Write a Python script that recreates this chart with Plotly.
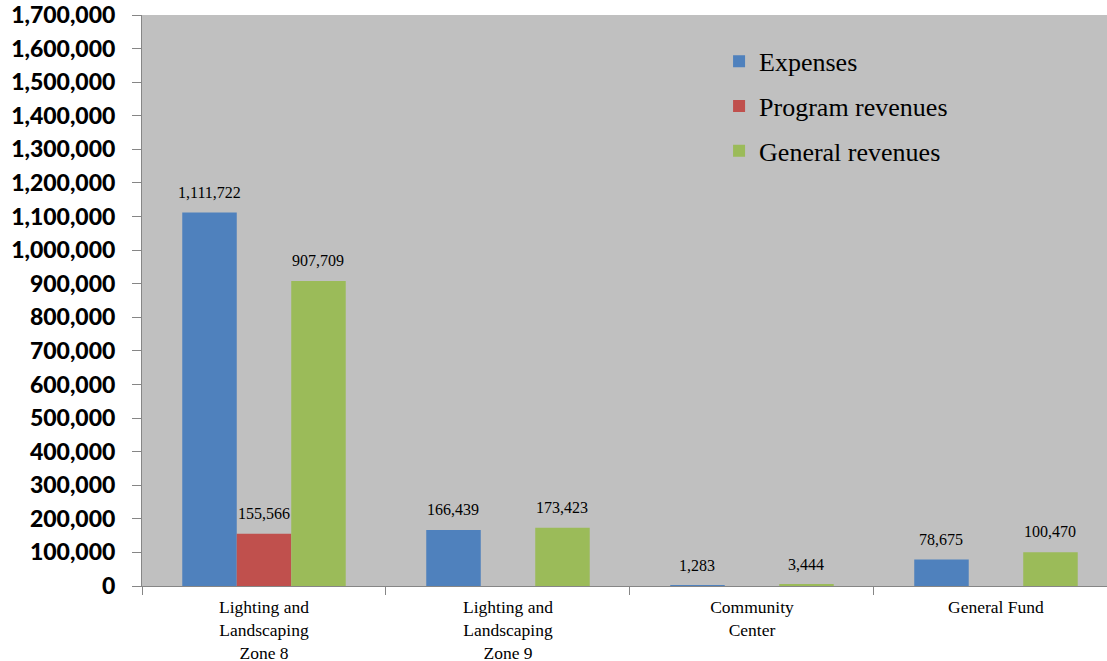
import plotly.graph_objects as go

categories = ["Lighting and<br>Landscaping<br>Zone 8", "Lighting and<br>Landscaping<br>Zone 9",
              "Community<br>Center", "General Fund"]
expenses = [1111722, 166439, 1283, 78675]
program_revenues = [155566, None, None, None]
general_revenues = [907709, 173423, 3444, 100470]
y_ticks = list(range(0, 1700001, 100000))

series = [
    ("Expenses", expenses, "#4F81BD"),
    ("Program revenues", program_revenues, "#C0504D"),
    ("General revenues", general_revenues, "#9BBB59"),
]

SERIF = "Liberation Serif, Times New Roman, serif"
BARGAP = 0.33
CAT_PX = 244  # approx pixel width of one category slot

fig = go.Figure()
for name, vals, color in series:
    fig.add_trace(go.Bar(
        x=categories, y=vals, name=name, legendgroup=name,
        marker=dict(color=color, line=dict(width=0)),
        hoverinfo="skip",
    ))

# value labels above bars
bar_px = CAT_PX * (1 - BARGAP) / len(series)
for i, (name, vals, color) in enumerate(series):
    for cat, v in zip(categories, vals):
        if v is None:
            continue
        fig.add_annotation(
            x=cat, y=v, text=f"{v:,}", showarrow=False,
            xanchor="center", yanchor="bottom",
            xshift=(i - 1) * bar_px, yshift=10,
            font=dict(family=SERIF, size=16, color="#000000"),
        )

fig.update_layout(
    width=1107, height=661,
    margin=dict(l=142, r=0, t=15, b=75),
    paper_bgcolor="#FFFFFF", plot_bgcolor="#C0C0C0",
    barmode="group", bargap=BARGAP, bargroupgap=0,
    showlegend=True,
    legend=dict(x=0.598, y=0.96, xanchor="left", yanchor="top",
                bgcolor="rgba(0,0,0,0)", tracegroupgap=8,
                font=dict(family=SERIF, size=26, color="#000000")),
    xaxis=dict(range=[-0.5, 3.455], showline=True, linecolor="#868686", linewidth=1,
               ticks="outside", tickson="boundaries", ticklen=8, tickcolor="#868686",
               ticklabelstandoff=5,
               tickfont=dict(family=SERIF, size=17.5, color="#000000"),
               showgrid=False, automargin=False),
    yaxis=dict(range=[0, 1700000], tickvals=y_ticks, tickformat=",d",
               showline=True, linecolor="#868686", linewidth=1,
               ticks="outside", ticklen=9, tickcolor="#868686",
               ticklabelstandoff=12, ticklabeloverflow="allow",
               tickfont=dict(family="Lato", size=23, color="#000000", weight=900),
               showgrid=False, zeroline=False, automargin=False),
)

fig.write_html("out.html", config={"displayModeBar": False},
               post_script="document.body.style.margin='0';document.body.style.overflow='hidden';")
